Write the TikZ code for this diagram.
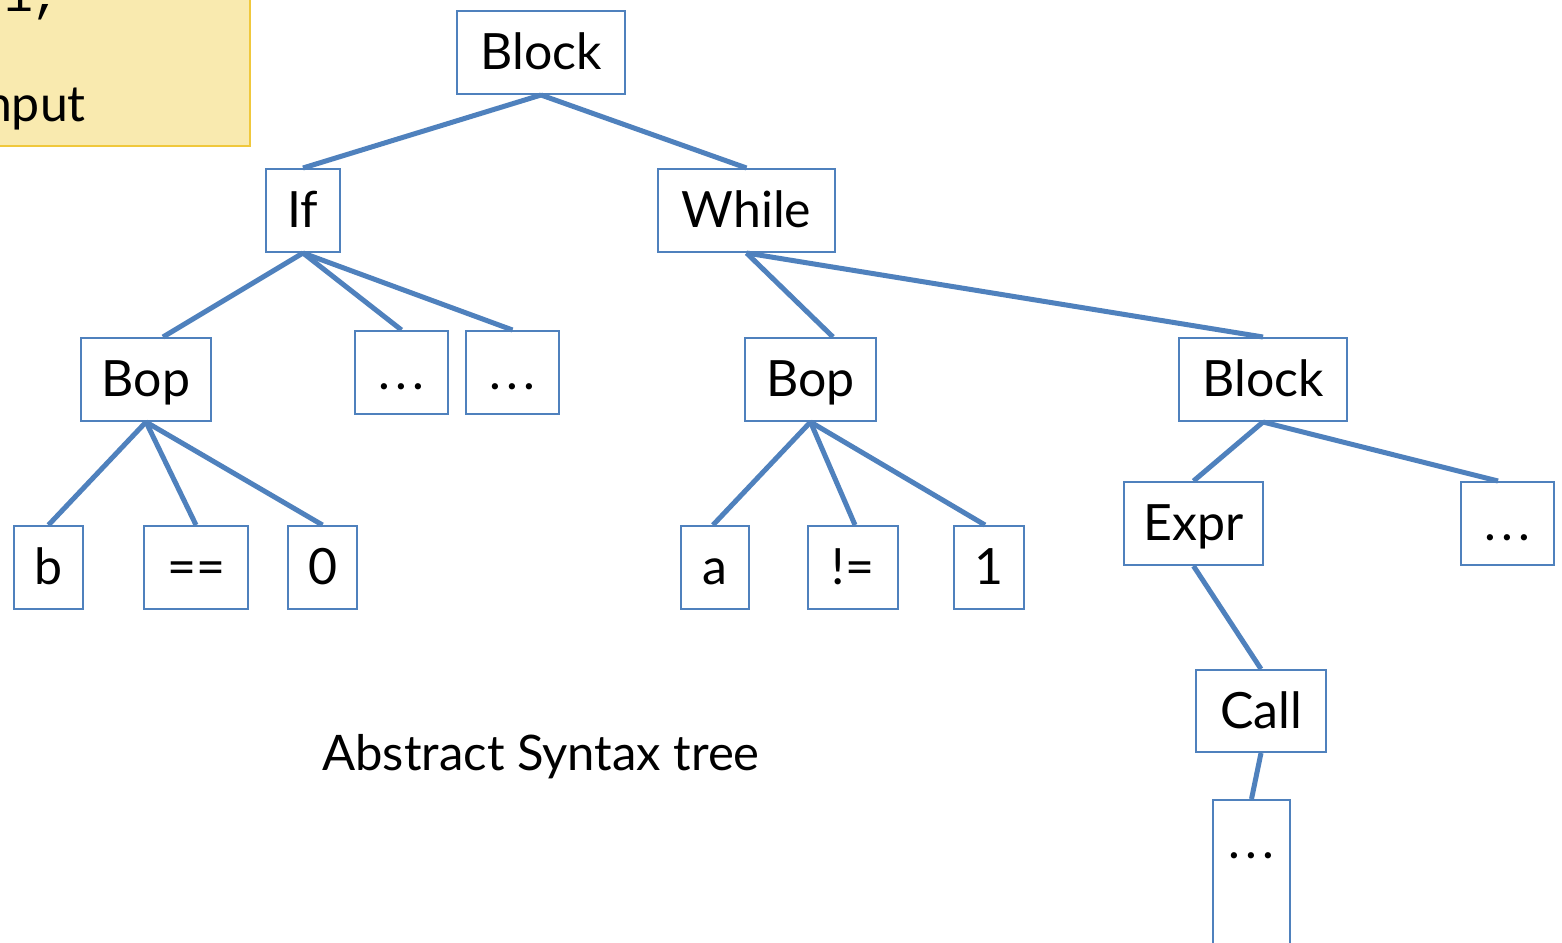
\documentclass[tikz,border=0pt]{standalone}
\usepackage{fontspec}
\setmainfont{Lato}
\setmonofont{Liberation Mono}
\definecolor{edge}{HTML}{4F81BD}
\definecolor{notefill}{RGB}{249,234,175}
\definecolor{noteborder}{RGB}{240,200,60}
\newcommand\mydots{.\kern5pt.\kern5pt.}
\begin{document}
\begin{tikzpicture}[x=1pt,y=-1pt,
  box/.style={draw=edge, line width=2pt, fill=white, inner sep=0pt, minimum height=83pt, text height=41pt, text depth=7pt, font=\fontsize{50}{56}\selectfont},
  txt/.style={inner sep=0pt, font=\fontsize{50}{56}\selectfont},
  conn/.style={draw=edge, line width=5pt}]
\clip (0,0) rectangle (1562,942);
\fill[white] (0,0) rectangle (1562,942);
% note box (cut off)
\node[draw=noteborder, fill=notefill, line width=2pt, minimum width=271pt, minimum height=167pt, anchor=south east, inner sep=0pt] (note) at (251,147) {};
\node[inner sep=0pt, anchor=base west, font=\fontsize{48}{52}\ttfamily] (notea) at (4,12) {1,};
\node[txt, anchor=base east] (noteb) at (86,121) {input};
% nodes
\node[box, minimum width=168pt] (block) at (541,52.5) {Block};
\node[box, minimum width=74pt] (if) at (303,210.5) {If};
\node[box, minimum width=177pt] (while) at (746.5,210.5) {While};
\node[box, minimum width=130pt] (bopa) at (146,379.5) {Bop};
\node[box, minimum width=93pt] (dotsa) at (401.5,372.5) {\mydots};
\node[box, minimum width=93pt] (dotsb) at (512.5,372.5) {\mydots};
\node[box, minimum width=131pt] (bopb) at (810.5,379.5) {Bop};
\node[box, minimum width=168pt] (blockb) at (1263,379.5) {Block};
\node[box, minimum width=69pt] (b) at (48.5,567.5) {b};
\node[box, minimum width=104pt] (eq) at (196,567.5) {==};
\node[box, minimum width=69pt] (zero) at (322.5,567.5) {0};
\node[box, minimum width=68pt] (a) at (715,567.5) {a};
\node[box, minimum width=90pt] (ne) at (853,567.5) {!=};
\node[box, minimum width=70pt] (one) at (989,567.5) {1};
\node[box, minimum width=139pt] (expr) at (1193.5,523.5) {Expr};
\node[box, minimum width=93pt] (dotsc) at (1507.5,523.5) {\mydots};
\node[box, minimum width=130pt, minimum height=82pt] (call) at (1261,711) {Call};
\node[box, minimum width=77pt, minimum height=200pt, anchor=north] (dotsd) at (1251.5,799) {};
\node[txt, anchor=base] (dotsdt) at ([yshift=-59pt]dotsd.north) {\mydots};
\node[txt, anchor=base, font=\fontsize{49}{56}\selectfont] (caption) at (541,770) {Abstract Syntax tree};
% connectors
\draw[conn] (block.south) -- (if.north);
\draw[conn] (block.south) -- (while.north);
\draw[conn] (if.south) -- ([xshift=17pt]bopa.north);
\draw[conn] (if.south) -- (dotsa.north);
\draw[conn] (if.south) -- (dotsb.north);
\draw[conn] (while.south) -- ([xshift=22.5pt]bopb.north);
\draw[conn] (while.south) -- (blockb.north);
\draw[conn] (bopa.south) -- (b.north);
\draw[conn] (bopa.south) -- (eq.north);
\draw[conn] (bopa.south) -- (zero.north);
\draw[conn] (bopb.south) -- ([xshift=-2pt]a.north);
\draw[conn] (bopb.south) -- ([xshift=2pt]ne.north);
\draw[conn] (bopb.south) -- ([xshift=-4pt]one.north);
\draw[conn] (blockb.south) -- (expr.north);
\draw[conn] (blockb.south) -- ([xshift=-9.5pt]dotsc.north);
\draw[conn] (expr.south) -- (call.north);
\draw[conn] (call.south) -- (dotsd.north);
\end{tikzpicture}
\end{document}
